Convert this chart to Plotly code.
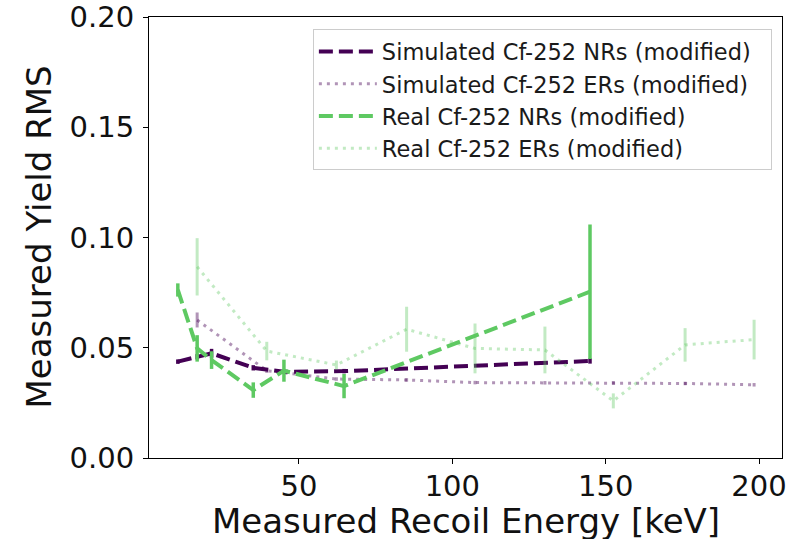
import plotly.graph_objects as go

# Nuclear-recoil bins (keV) and RMS of the measured yield
nr_energy = [10.5, 16.8, 21.5, 35.1, 45.1, 64.7, 144.9]
sim_nr_rms = [0.0437, 0.0459, 0.0475, 0.0409, 0.0391, 0.0394, 0.0440]
sim_nr_err = [0.0010, 0.0012, 0.0020, 0.0012, 0.0010, 0.0010, 0.0012]
real_nr_rms = [0.0762, 0.0497, 0.0444, 0.0308, 0.0396, 0.0326, 0.0754]
real_nr_err = [0.0030, 0.0060, 0.0040, 0.0035, 0.0050, 0.0055, 0.0305]

# Electron-recoil bins (keV)
er_energy = [16.8, 39.5, 62.2, 85.1, 107.4, 130.2, 152.5, 175.9, 198.4]
sim_er_rms = [0.0626, 0.0396, 0.0358, 0.0354, 0.0342, 0.0341, 0.0341, 0.0338, 0.0332]
sim_er_err = [0.0034, 0.0010, 0.0008, 0.0008, 0.0008, 0.0008, 0.0008, 0.0008, 0.0008]
real_er_rms = [0.0867, 0.0485, 0.0422, 0.0584, 0.0497, 0.0490, 0.0259, 0.0513, 0.0537]
real_er_err = [0.0130, 0.0042, 0.0020, 0.0102, 0.0113, 0.0106, 0.0034, 0.0076, 0.0090]

x_ticks = [50, 100, 150, 200]
y_ticks = [0.00, 0.05, 0.10, 0.15, 0.20]

x_title = "Measured Recoil Energy [keV]"
y_title = "Measured Yield RMS"

PURPLE = "rgb(68,1,84)"
PURPLE_LIGHT = "rgba(68,1,84,0.42)"
GREEN = "rgb(94,201,98)"
GREEN_LIGHT = "rgba(94,201,98,0.38)"

DASH = "14px,6px"
DOT = "3px,5px"
PAD = "\u00a0\u00a0"  # a little breathing room at the right of the legend box

series = [
    ("Simulated Cf-252 NRs (modified)", nr_energy, sim_nr_rms, sim_nr_err, PURPLE, DASH, 4, 3.5),
    ("Simulated Cf-252 ERs (modified)", er_energy, sim_er_rms, sim_er_err, PURPLE_LIGHT, DOT, 3, 3),
    ("Real Cf-252 NRs (modified)", nr_energy, real_nr_rms, real_nr_err, GREEN, DASH, 4, 3.5),
    ("Real Cf-252 ERs (modified)", er_energy, real_er_rms, real_er_err, GREEN_LIGHT, DOT, 3, 3),
]

fig = go.Figure()
for name, xs, ys, errs, color, dash, lw, ew in series:
    fig.add_trace(go.Scatter(
        x=xs, y=ys, name=name + PAD, mode="lines",
        line=dict(color=color, width=lw, dash=dash),
        error_y=dict(type="data", array=errs, visible=True,
                     color=color, thickness=ew, width=0),
    ))

axis_common = dict(
    showline=True, mirror=True, linecolor="black", linewidth=1,
    ticks="outside", ticklen=5, tickwidth=1, tickcolor="black",
    showgrid=False, zeroline=False, automargin=False,
    ticklabeloverflow="allow",
    tickfont=dict(family="DejaVu Sans", size=29, color="#111111"),
)

L, R, T, B = 149, 16, 17, 81
W, H = 798, 539
plot_w = W - L - R
plot_h = H - T - B

fig.update_layout(
    width=W, height=H,
    margin=dict(l=L, r=R, t=T, b=B),
    paper_bgcolor="white", plot_bgcolor="white",
    font=dict(family="DejaVu Sans", color="#111111"),
    xaxis=dict(range=[1.1, 207.5], tickvals=x_ticks, ticklabelstandoff=-3,
               **axis_common),
    yaxis=dict(range=[0, 0.2], tickvals=y_ticks, tickformat=".2f",
               ticklabelstandoff=3, **axis_common),
    legend=dict(
        x=0.984, y=0.972, xanchor="right", yanchor="top",
        bgcolor="white", bordercolor="#cccccc", borderwidth=1,
        font=dict(family="DejaVu Sans", size=22.5, color="#1a1a1a"),
        itemwidth=58, tracegroupgap=0,
    ),
    showlegend=True,
)

# Axis titles
fig.add_annotation(
    text=x_title, xref="paper", yref="paper",
    x=0.5, y=-(521 - (H - B)) / plot_h, xanchor="center", yanchor="middle",
    showarrow=False, font=dict(family="DejaVu Sans", size=34, color="#111111"),
)
fig.add_annotation(
    text=y_title, xref="paper", yref="paper", textangle=-90,
    x=-(L - 38) / plot_w, y=0.5, xanchor="center", yanchor="middle",
    showarrow=False, font=dict(family="DejaVu Sans", size=34, color="#111111"),
)

fig.write_html("out.html")
